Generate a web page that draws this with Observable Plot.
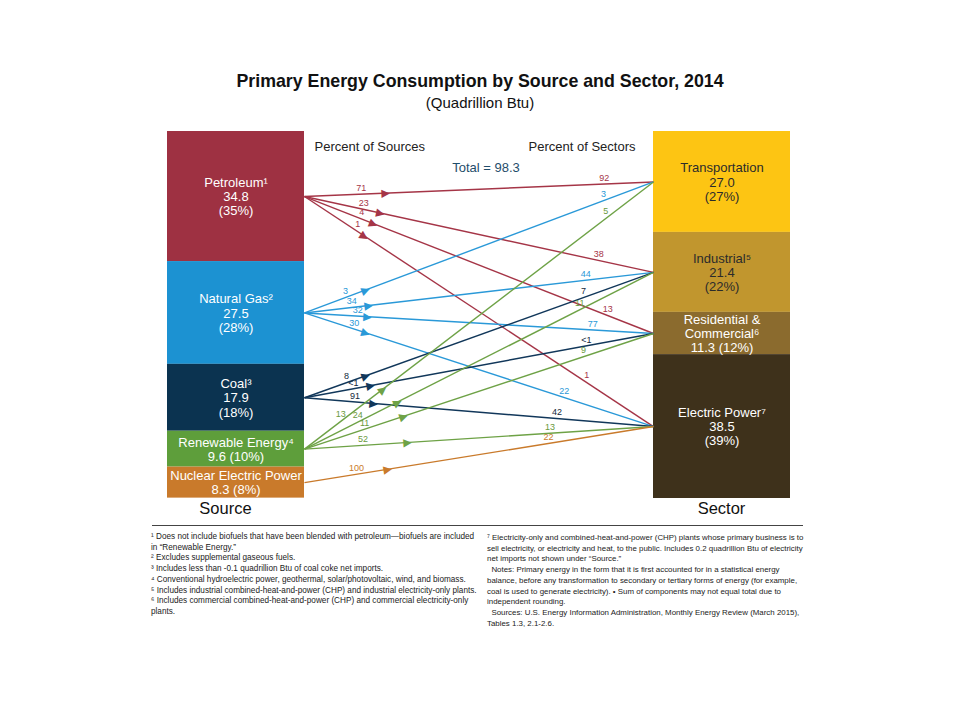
<!DOCTYPE html>
<html>
<head>
<meta charset="utf-8">
<script src="https://cdn.jsdelivr.net/npm/d3@7"></script>
<script src="https://cdn.jsdelivr.net/npm/@observablehq/plot@0.6"></script>
<style>
  body { margin: 0; background: #fff; font-family: "Liberation Sans", Arial, sans-serif; }
  #page { position: relative; width: 960px; height: 720px; overflow: hidden; }
  #title { position: absolute; top: 71px; left: 0; width: 960px; text-align: center; font-weight: bold; font-size: 17.8px; line-height: 20px; color: #111; }
  #subtitle { position: absolute; top: 94px; left: 0; width: 960px; text-align: center; font-size: 15px; line-height: 17px; color: #111; }
  #chart { position: absolute; top: 120px; left: 0; }
  #rule { position: absolute; top: 525px; left: 152px; width: 651px; border-top: 1px solid #444; }
  .notes { position: absolute; line-height: 10.7px; color: #222; white-space: nowrap; }
  #notesL { top: 532px; left: 151px; font-size: 8.2px; }
  #notesR { top: 533px; left: 487px; font-size: 7.9px; }
</style>
</head>
<body>
<div id="page">
  <div id="title"></div>
  <div id="subtitle"></div>
  <div id="chart"></div>
  <div id="rule"></div>
  <div id="notesL" class="notes"></div>
  <div id="notesR" class="notes"></div>
</div>
<script>
// ---------------- data ----------------
const titleText = "Primary Energy Consumption by Source and Sector, 2014";
const subtitleText = "(Quadrillion Btu)";
const totalText = "Total = 98.3";

const sources = ["Petroleum", "Natural Gas", "Coal", "Renewable Energy", "Nuclear Electric Power"];
const sourceLabels = ["Petroleum¹", "Natural Gas²", "Coal³", "Renewable Energy⁴", "Nuclear Electric Power"];
const sourceValues = [34.8, 27.5, 17.9, 9.6, 8.3];
const sourcePercents = [35, 28, 18, 10, 8];

const sectors = ["Transportation", "Industrial", "Residential & Commercial", "Electric Power"];
const sectorLabels = ["Transportation", "Industrial⁵", "Residential &\nCommercial⁶", "Electric Power⁷"];
const sectorValues = [27.0, 21.4, 11.3, 38.5];
const sectorPercents = [27, 22, 12, 39];

const flowSource = ["Petroleum", "Petroleum", "Petroleum", "Petroleum",
  "Natural Gas", "Natural Gas", "Natural Gas", "Natural Gas",
  "Coal", "Coal", "Coal",
  "Renewable Energy", "Renewable Energy", "Renewable Energy", "Renewable Energy",
  "Nuclear Electric Power"];
const flowSector = ["Transportation", "Industrial", "Residential & Commercial", "Electric Power",
  "Transportation", "Industrial", "Residential & Commercial", "Electric Power",
  "Industrial", "Residential & Commercial", "Electric Power",
  "Transportation", "Industrial", "Residential & Commercial", "Electric Power",
  "Electric Power"];
const pctOfSource = ["71", "23", "4", "1", "3", "34", "32", "30", "8", "<1", "91", "13", "24", "11", "52", "100"];
const pctOfSector = ["92", "38", "13", "1", "3", "44", "77", "22", "7", "<1", "42", "5", "11", "9", "13", "22"];

const notesLeft = [
  "¹ Does not include biofuels that have been blended with petroleum—biofuels are included",
  "in “Renewable Energy.”",
  "² Excludes supplemental gaseous fuels.",
  "³ Includes less than -0.1 quadrillion Btu of coal coke net imports.",
  "⁴ Conventional hydroelectric power, geothermal, solar/photovoltaic, wind, and biomass.",
  "⁵ Includes industrial combined-heat-and-power (CHP) and industrial electricity-only plants.",
  "⁶ Includes commercial combined-heat-and-power (CHP) and commercial electricity-only",
  "plants."
];
const notesRight = [
  "⁷ Electricity-only and combined-heat-and-power (CHP) plants whose primary business is to",
  "sell electricity, or electricity and heat, to the public. Includes 0.2 quadrillion Btu of electricity",
  "net imports not shown under “Source.”",
  "\u00a0\u00a0Notes: Primary energy in the form that it is first accounted for in a statistical energy",
  "balance, before any transformation to secondary or tertiary forms of energy (for example,",
  "coal is used to generate electricity). • Sum of components may not equal total due to",
  "independent rounding.",
  "\u00a0\u00a0Sources: U.S. Energy Information Administration, Monthly Energy Review (March 2015),",
  "Tables 1.3, 2.1-2.6."
];

// ---------------- styles / layout ----------------
const sourceFill = ["#9e3142", "#1c92d2", "#0b3350", "#5e9e3b", "#c97a2b"];
const sourceLine = ["#a53547", "#2a99d8", "#11375a", "#6ea246", "#c97a2b"];
const sourceLabelInk = ["#a53547", "#2a99d8", "#14283c", "#6a9a40", "#c97a2b"];
const sectorFill = ["#fdc513", "#c1962e", "#8b6b2e", "#3e311b"];
const sectorInk = ["#2b2b2b", "#2b2b2b", "#ffffff", "#ffffff"];
// horizontal offsets (px) of arrowheads / labels along each flow line (same order as the flows)
const arrowDx    = [81, 76, 69, 60, 61, 64, 63, 61, 61, 66, 69, 78, 93, 99, 103, 83];
const srcLabelDx = [57, 58, 55, 50, 43, 48, 53, 48, 44, 50, 50, 40, 56, 62, 59, 53];
const secLabelDx = [49, 56, 48, 70, 48, 67, 61, 91, 68, 66, 97, 44, 71, 68, 103, 104];
const PERP = 6;

const W = 960, H = 400;
const X0 = 304, X1 = 653, Y0 = 11, Y1 = 378;
const BOX_PX = 137;
const TOTAL = 98.2;
const pxX = X1 - X0, pxY = (Y1 - Y0) / TOTAL;
const BOX_W = BOX_PX / pxX;

document.getElementById("title").textContent = titleText;
document.getElementById("subtitle").textContent = subtitleText;
const esc = s => s.replace(/&/g, "&amp;").replace(/</g, "&lt;");
document.getElementById("notesL").innerHTML = notesLeft.map(esc).join("<br>");
document.getElementById("notesR").innerHTML = notesRight.map(esc).join("<br>");

function stack(values) {
  let acc = 0;
  return values.map(v => { const y0 = acc; acc += v; return {y0, y1: acc, mid: (y0 + acc) / 2}; });
}
function boxLabel(name, v, p) {
  const vs = v.toFixed(1);
  return v < 12 ? `${name}\n${vs} (${p}%)` : `${name}\n${vs}\n(${p}%)`;
}
const srcStack = stack(sourceValues), secStack = stack(sectorValues);

const srcRows = sources.map((s, i) => ({
  name: s, ...srcStack[i], fill: sourceFill[i], ink: "#ffffff",
  label: boxLabel(sourceLabels[i], sourceValues[i], sourcePercents[i])
}));
const secRows = sectors.map((s, i) => ({
  name: s, ...secStack[i], fill: sectorFill[i], ink: sectorInk[i],
  label: boxLabel(sectorLabels[i], sectorValues[i], sectorPercents[i])
}));

const flows = flowSource.map((s, i) => {
  const si = sources.indexOf(s), ki = sectors.indexOf(flowSector[i]);
  const yA = srcStack[si].mid, yB = secStack[ki].mid;
  const dyp = (yB - yA) * pxY;
  const len = Math.hypot(pxX, dyp);
  const ux = pxX / len, uy = dyp / len;
  const nx = uy * PERP, ny = -ux * PERP; // perpendicular, above the line
  const at = f => ({x: f, y: yA + (yB - yA) * f});
  const a = at(arrowDx[i] / pxX), l = at(srcLabelDx[i] / pxX), r = at(1 - secLabelDx[i] / pxX);
  return {
    source: s, sector: flowSector[i], yA, yB,
    color: sourceLine[si], ink: sourceLabelInk[si],
    ax: a.x, ay: a.y,
    rot: Math.atan2(dyp, pxX) * 180 / Math.PI,
    lx: l.x + nx / pxX, ly: l.y + ny / pxY, ltext: pctOfSource[i],
    rx: r.x + nx / pxX, ry: r.y + ny / pxY, rtext: pctOfSector[i]
  };
});

const FONT = "'Liberation Sans', Arial, sans-serif";

const chart = Plot.plot({
  width: W, height: H,
  marginLeft: X0, marginRight: W - X1, marginTop: Y0, marginBottom: H - Y1,
  x: {domain: [0, 1], range: [X0, X1], axis: null},
  y: {domain: [0, TOTAL], range: [Y0, Y1], axis: null},
  color: {type: "identity"},
  style: {fontFamily: FONT, background: "transparent", overflow: "visible"},
  marks: [
    Plot.rect(srcRows, {x1: -BOX_W, x2: 0, y1: "y0", y2: "y1", fill: "fill"}),
    Plot.rect(secRows, {x1: 1, x2: 1 + BOX_W, y1: "y0", y2: "y1", fill: "fill"}),
    Plot.text(srcRows, {x: -BOX_W / 2, y: "mid", text: "label", fill: "ink", fontSize: 13, lineHeight: 1.1, lineAnchor: "middle"}),
    Plot.text(secRows, {x: 1 + BOX_W / 2, y: "mid", text: "label", fill: "ink", fontSize: 13, lineHeight: 1.1, lineAnchor: "middle"}),
    Plot.link(flows, {x1: 0, y1: "yA", x2: 1, y2: "yB", stroke: "color", strokeWidth: 1.4}),
    Plot.text(flows, {x: "ax", y: "ay", text: () => "▶", rotate: "rot", fill: "color", fontSize: 11, fontFamily: "DejaVu Sans", lineAnchor: "middle"}),
    Plot.text(flows, {x: "lx", y: "ly", text: "ltext", fill: "ink", fontSize: 9, lineAnchor: "middle"}),
    Plot.text(flows, {x: "rx", y: "ry", text: "rtext", fill: "ink", fontSize: 9, lineAnchor: "middle"}),
    Plot.text(["Percent of Sources"], {text: d => d, frameAnchor: "top-left", dx: 10, dy: 15, textAnchor: "start", lineAnchor: "middle", fontSize: 13, fill: "#222"}),
    Plot.text(["Percent of Sectors"], {text: d => d, frameAnchor: "top-right", dx: -18, dy: 15, textAnchor: "end", lineAnchor: "middle", fontSize: 13, fill: "#222"}),
    Plot.text([totalText], {text: d => d, frameAnchor: "top", dx: 7, dy: 36, lineAnchor: "middle", fontSize: 13, fill: "#1f4d6b"}),
    Plot.text(["Source"], {text: d => d, frameAnchor: "bottom-left", dx: -79, dy: 10, textAnchor: "middle", lineAnchor: "middle", fontSize: 16.5, fill: "#111"}),
    Plot.text(["Sector"], {text: d => d, frameAnchor: "bottom-right", dx: 68, dy: 10, textAnchor: "middle", lineAnchor: "middle", fontSize: 16.5, fill: "#111"})
  ]
});
document.getElementById("chart").appendChild(chart);
</script>
</body>
</html>
